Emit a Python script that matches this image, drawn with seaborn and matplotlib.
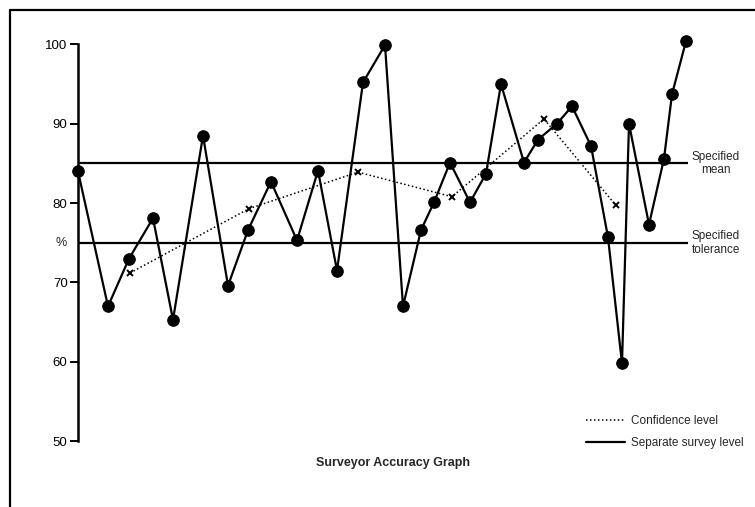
import matplotlib
matplotlib.use('Agg')
import matplotlib.pyplot as plt
from matplotlib.lines import Line2D
import seaborn as sns

# survey number position (days from first survey) and accuracy %
survey_x = [0, 30, 51, 75, 95, 125, 150, 170, 193, 219, 240, 259, 285, 307, 325, 343, 356,
            372, 392, 408, 423, 446, 460, 479, 494, 513, 530, 544, 551, 571, 586, 594, 608]
survey_val = [84.0, 67.0, 73.0, 78.1, 65.3, 88.5, 69.6, 76.6, 82.7, 75.3, 84.1, 71.5, 95.2,
              99.9, 67.0, 76.6, 80.1, 85.1, 80.1, 83.7, 95.0, 85.1, 88.0, 90.0, 92.2, 87.2,
              75.7, 59.8, 90.0, 77.3, 85.6, 93.7, 100.4]

# confidence level (running)
conf_x = [52, 171, 280, 374, 466, 538]
conf_val = [71.2, 79.3, 83.9, 80.8, 90.6, 79.7]

spec_mean = 85
spec_tol = 75
y_ticks = [50, 60, 70, 80, 90, 100]

sns.set_theme(style='white')
plt.rcParams['font.family'] = ['Liberation Sans', 'DejaVu Sans']

fig = plt.figure(figsize=(7.55, 5.07), dpi=100)
ax = fig.add_axes([78 / 755, 65.7 / 507, 677 / 755, 397 / 507])

# reference lines
ax.hlines([spec_mean, spec_tol], 0, 610, color='black', linewidth=1.6)

sns.lineplot(x=conf_x, y=conf_val, ax=ax, color='black', linestyle=(0, (1, 1.6)),
             linewidth=1.1, marker='x', markersize=4.5, markeredgewidth=1.4,
             markeredgecolor='black', clip_on=False)
sns.lineplot(x=survey_x, y=survey_val, ax=ax, color='black', linewidth=1.6,
             marker='o', markersize=8.3, markeredgecolor='black', clip_on=False)

ax.set_xlim(0, 677)
ax.set_ylim(50, 100)
ax.set_yticks(y_ticks)
ax.set_xticks([])
ax.set_xlabel('')
ax.set_ylabel('')
for s in ['top', 'right', 'bottom']:
    ax.spines[s].set_visible(False)
ax.spines['left'].set_linewidth(1.8)
ax.spines['left'].set_color('black')
ax.tick_params(axis='y', left=True, length=6, width=1.4, pad=1.5, labelsize=9.5,
               colors='black')

ax.annotate('%', xy=(0, 75), xytext=(-12, 0), textcoords='offset points',
            ha='center', va='center', fontsize=9)

ax.text(638, spec_mean, 'Specified\nmean', ha='center', va='center', fontsize=8.5,
        linespacing=1.2)
ax.text(638, spec_tol, 'Specified\ntolerance', ha='center', va='center', fontsize=8.5,
        linespacing=1.2)

fig.text(393 / 755, 1 - 463 / 507, 'Surveyor Accuracy Graph', ha='center', va='center',
         fontsize=9, fontweight='bold')

handles = [Line2D([], [], color='black', linestyle=(0, (1, 1.6)), linewidth=1.1),
           Line2D([], [], color='black', linewidth=1.6)]
ax.legend(handles, ['Confidence level', 'Separate survey level'], loc='upper left',
          bbox_to_anchor=(586 / 755, 1 - 415 / 507), bbox_transform=fig.transFigure,
          frameon=False, fontsize=8.5, handlelength=3.3, handletextpad=0.5,
          borderpad=0, borderaxespad=0, labelspacing=0.85)

# outer frame (top and left edges)
fig.add_artist(Line2D([10 / 755, 1], [1 - 10 / 507, 1 - 10 / 507],
                      transform=fig.transFigure, color='black', linewidth=1.6))
fig.add_artist(Line2D([10 / 755, 10 / 755], [0, 1 - 10 / 507],
                      transform=fig.transFigure, color='black', linewidth=1.6))

fig.savefig('out.png', dpi=100)
